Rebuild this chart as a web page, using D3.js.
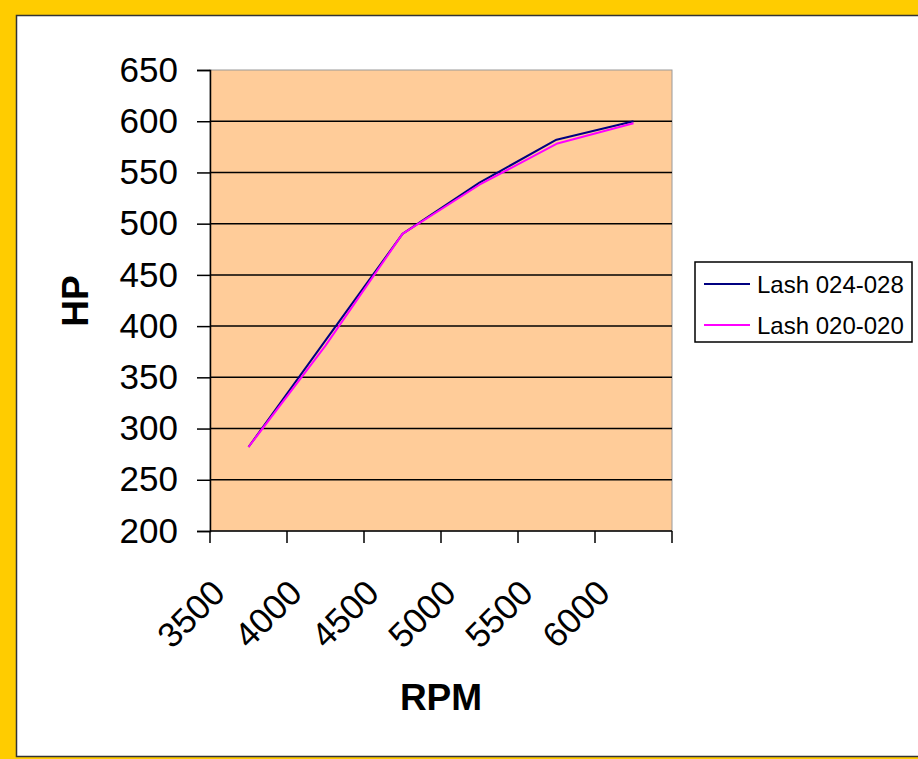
<!DOCTYPE html>
<html>
<head>
<meta charset="utf-8">
<script src="https://cdn.jsdelivr.net/npm/d3@7"></script>
<style>
  html, body { margin: 0; padding: 0; background: #FFCC00; }
  svg { display: block; }
</style>
</head>
<body>
<svg id="chart" width="918" height="759"></svg>
<script>
// Dyno pulls: horsepower at each RPM step for two valve lash settings
const rpm = ["3500", "4000", "4500", "5000", "5500", "6000"];
const lash024028 = [282, 386, 490, 540, 582, 600];
const lash020020 = [282, 381, 490, 538, 578, 598];
const seriesNames = ["Lash 024-028", "Lash 020-020"];
const seriesColors = ["#000080", "#FF00FF"];
const hpTicks = [200, 250, 300, 350, 400, 450, 500, 550, 600, 650];

const svg = d3.select("#chart");
const font = "'Liberation Sans', Arial, sans-serif";

// window frame: yellow surround with a white chart sheet
svg.append("rect").attr("x", 0).attr("y", 0).attr("width", 918).attr("height", 759).attr("fill", "#FFCC00");
svg.append("rect").attr("x", 16.5).attr("y", 15.5).attr("width", 910).attr("height", 741)
  .attr("fill", "#ffffff").attr("stroke", "#333333").attr("stroke-width", 1.5);

const plot = { left: 210, right: 672, top: 70, bottom: 531 };

const x = d3.scaleBand().domain(rpm).range([plot.left, plot.right]).paddingInner(0).paddingOuter(0);
const y = d3.scaleLinear().domain([200, 650]).range([plot.bottom, plot.top]);

// plot area
svg.append("rect")
  .attr("x", plot.left).attr("y", plot.top)
  .attr("width", plot.right - plot.left).attr("height", plot.bottom - plot.top)
  .attr("fill", "#FFCC99").attr("stroke", "#9a9a9a").attr("stroke-width", 1);

// horizontal gridlines
svg.append("g").selectAll("line")
  .data(hpTicks.filter(d => d > 200 && d < 650))
  .join("line")
  .attr("x1", plot.left).attr("x2", plot.right)
  .attr("y1", d => y(d)).attr("y2", d => y(d))
  .attr("stroke", "#000").attr("stroke-width", 1.5);

// y axis
const yAxis = svg.append("g")
  .attr("transform", `translate(${plot.left},0)`)
  .call(d3.axisLeft(y).tickValues(hpTicks).tickSize(13).tickPadding(19).tickFormat(d3.format("d")));
yAxis.select(".domain").attr("stroke", "#000").attr("stroke-width", 1.5);
yAxis.selectAll(".tick line").attr("stroke", "#000").attr("stroke-width", 1.5);
yAxis.selectAll(".tick text")
  .attr("font-family", font).attr("font-size", 35).attr("fill", "#000");

// x axis: category axis with ticks between categories
const xTickPos = rpm.map(d => x(d)).concat([plot.right]);
const xAxis = svg.append("g");
xAxis.append("line")
  .attr("x1", plot.left).attr("x2", plot.right)
  .attr("y1", plot.bottom).attr("y2", plot.bottom)
  .attr("stroke", "#000").attr("stroke-width", 1.5);
xAxis.selectAll("line.tick")
  .data(xTickPos)
  .join("line")
  .attr("class", "tick")
  .attr("x1", d => d).attr("x2", d => d)
  .attr("y1", plot.bottom).attr("y2", plot.bottom + 12)
  .attr("stroke", "#000").attr("stroke-width", 1.5);
xAxis.selectAll("text")
  .data(rpm)
  .join("text")
  .attr("transform", d => `translate(${x(d) + 17},${plot.bottom + 64}) rotate(-45)`)
  .attr("text-anchor", "end")
  .attr("font-family", font).attr("font-size", 35).attr("fill", "#000")
  .text(d => d);

// axis titles
svg.append("text")
  .attr("transform", "translate(88,301) rotate(-90)")
  .attr("text-anchor", "middle")
  .attr("font-family", font).attr("font-weight", "bold").attr("font-size", 37)
  .text("HP");
svg.append("text")
  .attr("x", 441).attr("y", 710)
  .attr("text-anchor", "middle")
  .attr("font-family", font).attr("font-weight", "bold").attr("font-size", 37)
  .text("RPM");

// series lines
const line = d3.line()
  .x((d, i) => x(rpm[i]) + x.bandwidth() / 2)
  .y(d => y(d));
[lash024028, lash020020].forEach((vals, k) => {
  svg.append("path")
    .datum(vals)
    .attr("d", line)
    .attr("fill", "none")
    .attr("stroke", seriesColors[k])
    .attr("stroke-width", 2)
    .attr("stroke-linejoin", "round");
});

// legend
const legend = svg.append("g");
legend.append("rect")
  .attr("x", 695).attr("y", 262).attr("width", 217).attr("height", 80)
  .attr("fill", "#fff").attr("stroke", "#000").attr("stroke-width", 1.5);
const items = legend.selectAll("g.item")
  .data(seriesNames)
  .join("g")
  .attr("class", "item")
  .attr("transform", (d, i) => `translate(0,${284 + i * 41})`);
items.append("line")
  .attr("x1", 704).attr("x2", 750).attr("y1", 0).attr("y2", 0)
  .attr("stroke", (d, i) => seriesColors[i]).attr("stroke-width", 2);
items.append("text")
  .attr("x", 757).attr("y", 9)
  .attr("font-family", font).attr("font-size", 24).attr("fill", "#000")
  .text(d => d);
</script>
</body>
</html>
